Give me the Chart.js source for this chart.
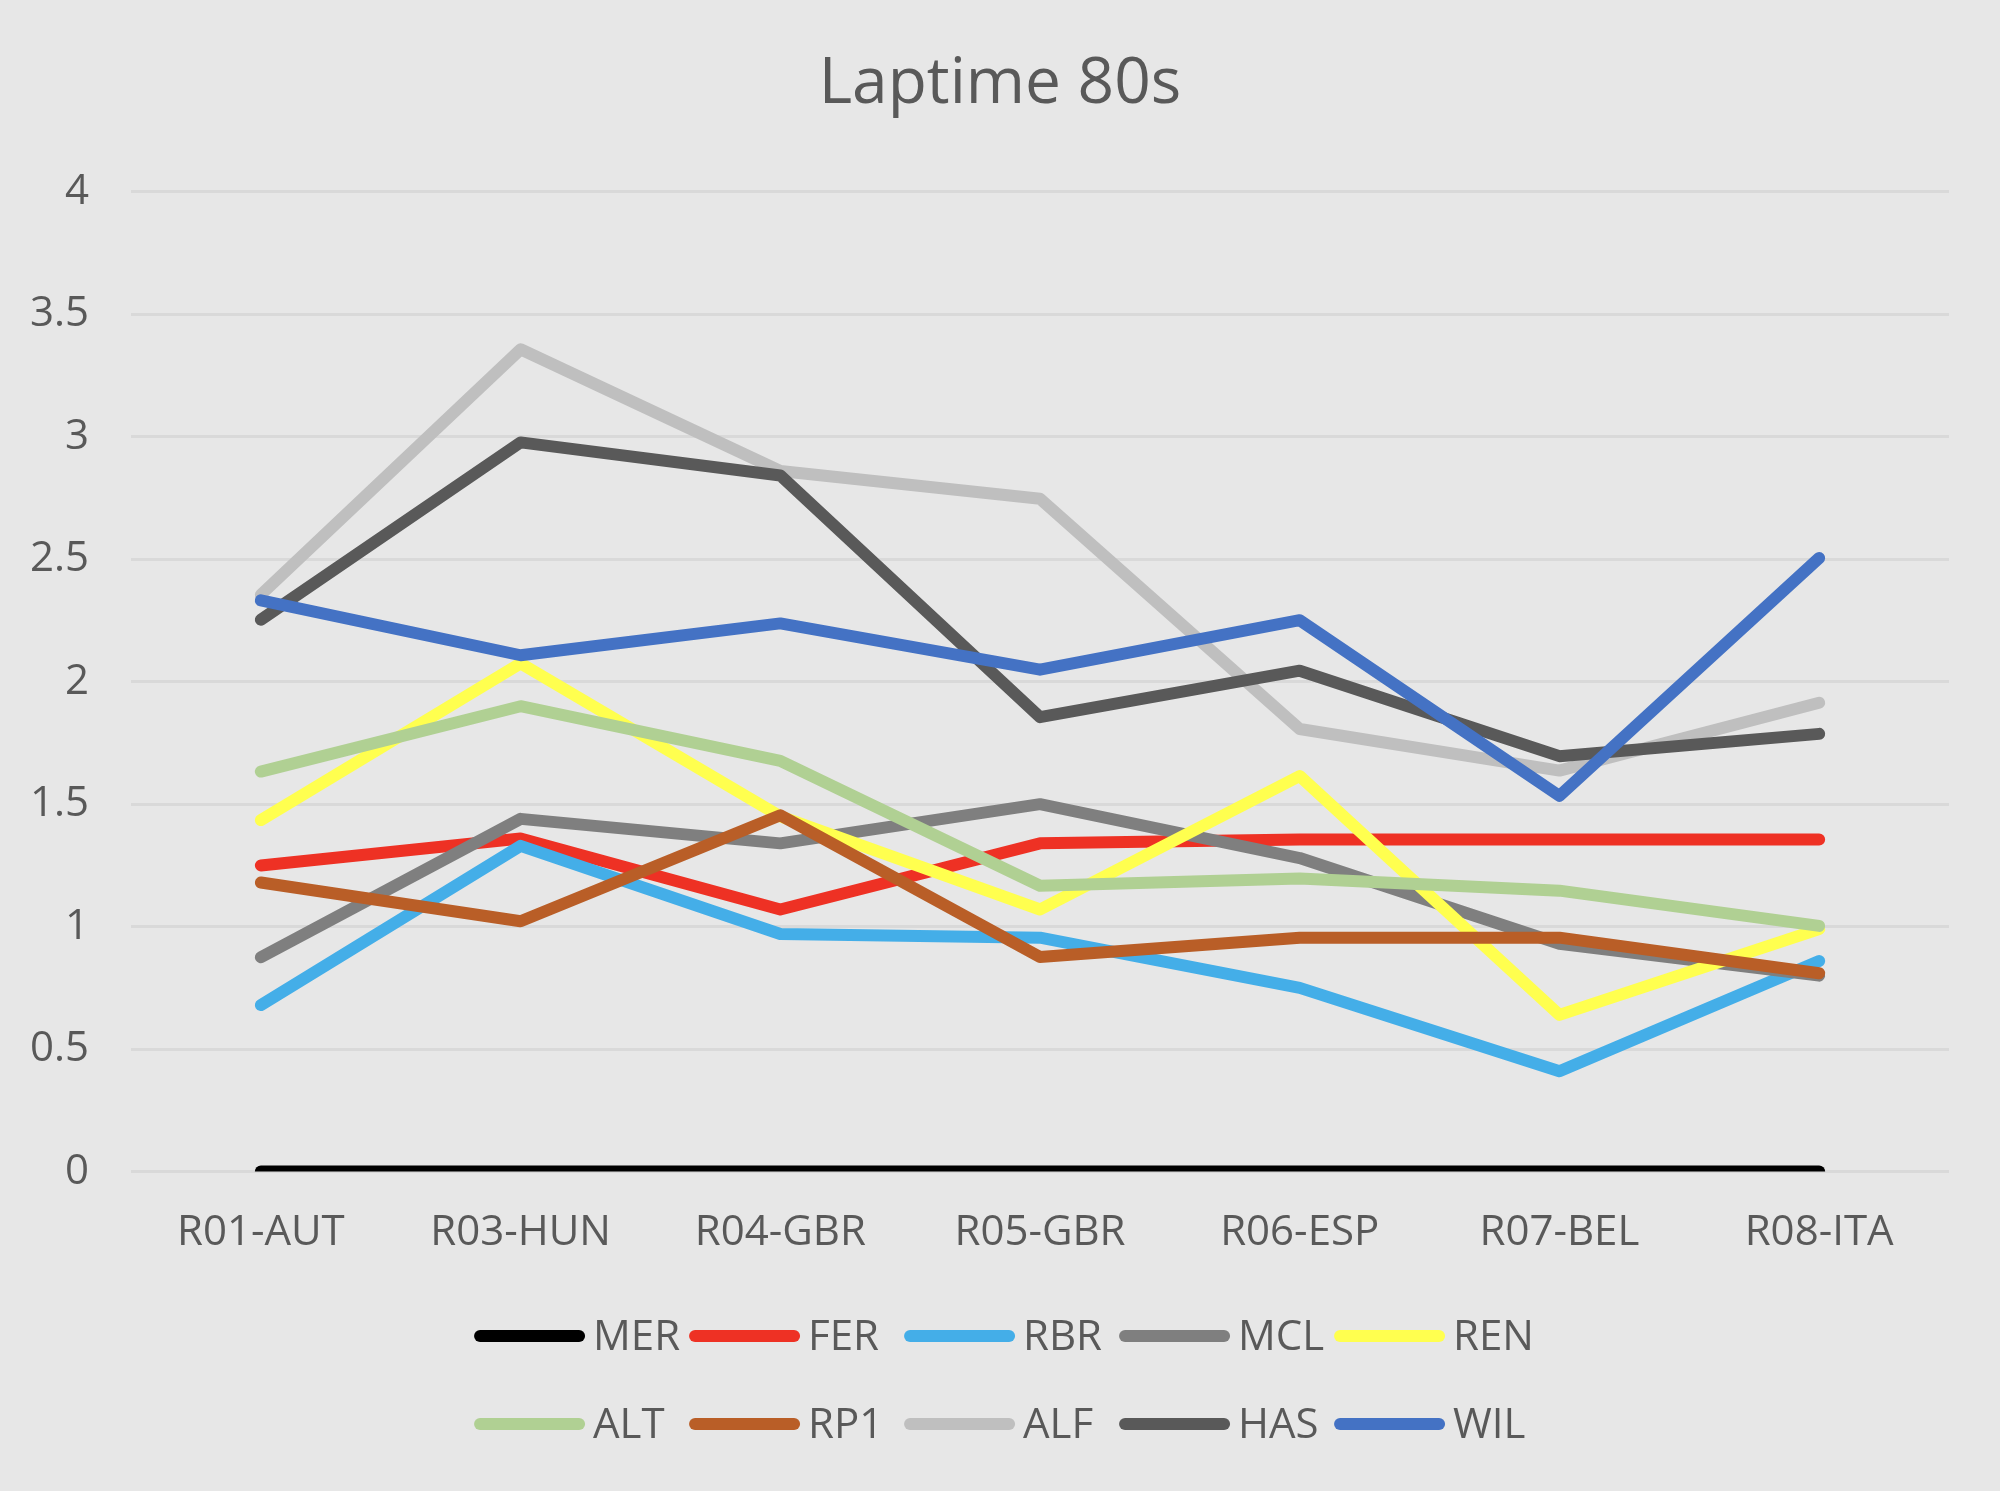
<!DOCTYPE html>
<html>
<head>
<meta charset="utf-8">
<title>Laptime 80s</title>
<script src="https://cdn.jsdelivr.net/npm/chart.js@4.4.1/dist/chart.umd.min.js"></script>
<style>
    html, body { margin: 0; padding: 0; background: #e7e7e7; }
    #chart { display: block; }
</style>
</head>
<body>
<canvas id="chart" width="2000" height="1491"></canvas>
<script>
// rounds on the x axis
const rounds = ['R01-AUT', 'R03-HUN', 'R04-GBR', 'R05-GBR', 'R06-ESP', 'R07-BEL', 'R08-ITA'];

// gap per team
const mer = [0, 0, 0, 0, 0, 0, 0];
const fer = [1.25, 1.36, 1.07, 1.34, 1.356, 1.356, 1.356];
const rbr = [0.68, 1.33, 0.97, 0.955, 0.75, 0.41, 0.86];
const mcl = [0.875, 1.44, 1.34, 1.50, 1.28, 0.93, 0.80];
const ren = [1.435, 2.075, 1.45, 1.07, 1.615, 0.64, 0.99];
const alt = [1.633, 1.90, 1.677, 1.167, 1.197, 1.147, 1.003];
const rp1 = [1.18, 1.022, 1.455, 0.876, 0.955, 0.955, 0.81];
const alf = [2.355, 3.357, 2.86, 2.747, 1.807, 1.637, 1.914];
const has = [2.253, 2.977, 2.842, 1.855, 2.045, 1.696, 1.787];
const wil = [2.332, 2.108, 2.238, 2.049, 2.251, 1.534, 2.505];

const teams = ['MER', 'FER', 'RBR', 'MCL', 'REN', 'ALT', 'RP1', 'ALF', 'HAS', 'WIL'];
const teamValues = [mer, fer, rbr, mcl, ren, alt, rp1, alf, has, wil];
const teamColors = ['#000000', '#ee3124', '#44aee8', '#7f7f7f', '#ffff4f',
                    '#b0d093', '#b95e27', '#bfbfbf', '#595959', '#4472c4'];

const yTicks = [0, 0.5, 1, 1.5, 2, 2.5, 3, 3.5, 4];

const textColor = '#595959';
const fontFamily = '"Open Sans", "Noto Sans", sans-serif';

// flat grey page behind everything
const background = {
    id: 'background',
    beforeDraw(chart) {
        const ctx = chart.ctx;
        ctx.save();
        ctx.fillStyle = '#e7e7e7';
        ctx.fillRect(0, 0, chart.width, chart.height);
        ctx.restore();
    }
};

// title is centred on the whole canvas, not between the paddings
const centerTitle = {
    id: 'centerTitle',
    afterLayout(chart) {
        if (chart.titleBlock) {
            chart.titleBlock.left = 0;
            chart.titleBlock.right = chart.width;
        }
    }
};

// excel style legend: 5 fixed columns, 2 rows
const bottomLegend = {
    id: 'bottomLegend',
    afterDraw(chart) {
        const ctx = chart.ctx;
        const cols = 5;
        const pitch = 215;
        const lineLen = 111;
        const gap = 8;
        ctx.save();
        ctx.font = '42px ' + fontFamily;
        ctx.textBaseline = 'middle';
        const lastW = lineLen + gap + ctx.measureText(teams[cols - 1]).width;
        const left = chart.width / 2 - (pitch * (cols - 1) + lastW) / 2 + 4;
        chart.data.datasets.forEach((ds, i) => {
            const x = left + (i % cols) * pitch;
            const y = chart.height - 155 + Math.floor(i / cols) * 88;
            ctx.strokeStyle = ds.borderColor;
            ctx.lineWidth = 12;
            ctx.lineCap = 'round';
            ctx.beginPath();
            ctx.moveTo(x + 6, y);
            ctx.lineTo(x + lineLen - 6, y);
            ctx.stroke();
            ctx.fillStyle = textColor;
            ctx.fillText(ds.label, x + lineLen + gap, y + 2);
        });
        ctx.restore();
    }
};

const datasets = teams.map((team, i) => ({
    label: team,
    data: teamValues[i],
    borderColor: teamColors[i],
    backgroundColor: teamColors[i],
    borderWidth: 12,
    borderCapStyle: 'round',
    borderJoinStyle: 'round',
    pointRadius: 0,
    tension: 0,
    fill: false,
    order: -i // later teams on top, like the original
}));

new Chart(document.getElementById('chart'), {
    type: 'line',
    data: { labels: rounds, datasets: datasets },
    options: {
        responsive: false,
        animation: false,
        layout: { padding: { left: 31, right: 51, top: 0, bottom: 197 } },
        plugins: {
            legend: { display: false },
            tooltip: { enabled: false },
            title: {
                display: true,
                text: 'Laptime 80s',
                color: textColor,
                font: { family: fontFamily, size: 64, weight: 'normal' },
                padding: { top: 46, bottom: 69 }
            }
        },
        scales: {
            x: {
                offset: true,
                afterFit: scale => {
                    scale.paddingLeft = 0;
                    scale.paddingRight = 0;
                },
                grid: { display: false, drawTicks: false },
                border: { display: false },
                ticks: {
                    color: textColor,
                    padding: 36,
                    maxRotation: 0,
                    font: { family: fontFamily, size: 42 }
                }
            },
            y: {
                min: 0,
                max: 4,
                afterBuildTicks: axis => {
                    axis.ticks = yTicks.map(v => ({ value: v }));
                },
                afterFit: scale => {
                    scale.width = 100;
                },
                grid: { color: '#d9d9d9', lineWidth: 3, drawTicks: false },
                border: { display: false },
                ticks: {
                    color: textColor,
                    padding: 42,
                    font: { family: fontFamily, size: 42 },
                    callback: v => String(v)
                }
            }
        }
    },
    plugins: [background, centerTitle, bottomLegend]
});
</script>
</body>
</html>
